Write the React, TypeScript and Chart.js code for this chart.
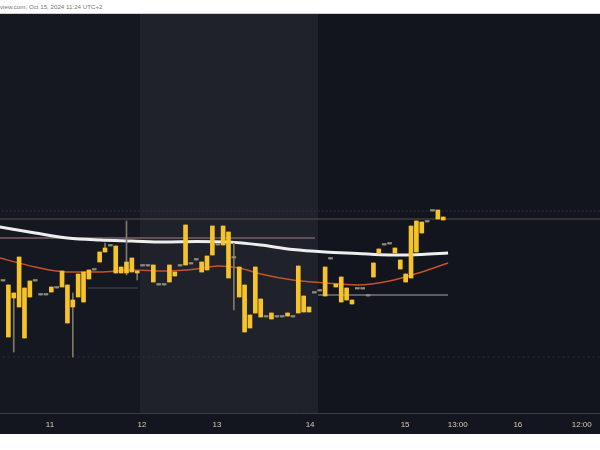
import React, { useEffect, useRef } from "react";
import { Chart, registerables } from "chart.js";
Chart.register(...registerables);

// Candles (one per bar, index = position in arrays)
const opens = [
  2612.8, 2611.2, 2608.0, 2622.4, 2610.0, 2612.8, 2612.8, 2607.2, 2607.2, 2610.4,
  2610.0, 2616.8, 2611.2, 2605.2, 2615.6, 2616.4, 2617.2, 2617.2, 2624.4, 2626.0,
  2626.8, 2626.8, 2618.4, 2620.4, 2622.0, 2616.8, 2618.8, 2618.8, 2619.2, 2611.2,
  2611.2, 2619.2, 2616.4, 2618.8, 2635.2, 2619.6, 2621.2, 2620.4, 2622.8, 2634.8,
  2627.2, 2634.8, 2632.4, 2622.0, 2618.4, 2611.2, 2599.2, 2618.4, 2605.6, 2598.4,
  2600.0, 2598.4, 2598.4, 2600.0, 2598.4, 2618.8, 2606.8, 2602.4, 2608.0, 2608.8,
  2618.4, 2621.6, 2611.6, 2614.4, 2610.0, 2605.2, 2609.6, 2609.6, 2606.8, 2620.0,
  2625.6, 2627.2, 2627.6, 2626.0, 2621.2, 2615.6, 2634.8, 2636.8, 2636.4, 2636.4,
  2640.8, 2641.2, 2638.4,
];
const closes = [
  2612.8, 2590.4, 2606.0, 2602.4, 2590.0, 2606.4, 2612.8, 2607.2, 2607.2, 2608.4,
  2610.0, 2610.4, 2596.0, 2602.4, 2606.4, 2604.4, 2613.6, 2617.2, 2620.4, 2624.4,
  2626.8, 2616.0, 2616.0, 2616.0, 2616.4, 2616.0, 2618.8, 2618.8, 2612.4, 2611.2,
  2611.2, 2612.4, 2614.8, 2618.8, 2619.2, 2619.6, 2621.2, 2616.4, 2617.2, 2623.2,
  2627.2, 2627.2, 2614.0, 2622.0, 2606.4, 2592.4, 2594.0, 2600.0, 2598.4, 2598.4,
  2597.6, 2598.4, 2598.4, 2598.8, 2598.4, 2600.0, 2600.4, 2600.4, 2608.0, 2608.8,
  2606.8, 2621.6, 2610.4, 2604.4, 2605.2, 2603.6, 2609.6, 2609.6, 2606.8, 2614.4,
  2624.0, 2627.2, 2627.6, 2624.0, 2617.6, 2612.4, 2614.0, 2624.4, 2632.0, 2636.4,
  2640.8, 2637.6, 2637.2,
];
const highs = [
  2612.8, 2611.2, 2608.0, 2622.4, 2610.0, 2612.8, 2612.8, 2607.2, 2607.2, 2610.4,
  2610.0, 2616.8, 2611.2, 2608.0, 2615.6, 2616.4, 2617.2, 2617.2, 2624.4, 2628.0,
  2626.8, 2626.8, 2618.4, 2636.8, 2622.0, 2616.8, 2618.8, 2618.8, 2619.2, 2611.2,
  2611.2, 2619.2, 2616.4, 2618.8, 2635.2, 2619.6, 2621.2, 2620.4, 2622.8, 2634.8,
  2627.2, 2634.8, 2632.4, 2628.0, 2618.4, 2611.2, 2599.2, 2618.4, 2605.6, 2598.4,
  2600.0, 2598.4, 2598.4, 2600.0, 2598.4, 2618.8, 2606.8, 2602.4, 2608.0, 2608.8,
  2618.4, 2621.6, 2611.6, 2614.4, 2610.0, 2605.2, 2609.6, 2609.6, 2606.8, 2620.0,
  2625.6, 2627.2, 2627.6, 2626.0, 2621.2, 2615.6, 2634.8, 2636.8, 2636.4, 2636.4,
  2640.8, 2641.2, 2638.4,
];
const lows = [
  2612.8, 2590.4, 2584.4, 2602.4, 2590.0, 2606.4, 2612.8, 2607.2, 2607.2, 2608.4,
  2610.0, 2610.4, 2596.0, 2582.4, 2606.4, 2604.4, 2613.6, 2617.2, 2620.4, 2624.4,
  2626.8, 2616.0, 2616.0, 2615.2, 2616.4, 2613.2, 2618.8, 2618.8, 2612.4, 2611.2,
  2611.2, 2612.4, 2614.8, 2618.8, 2619.2, 2619.6, 2621.2, 2616.4, 2617.2, 2623.2,
  2627.2, 2627.2, 2614.0, 2601.2, 2606.4, 2592.4, 2594.0, 2600.0, 2598.4, 2598.4,
  2597.6, 2598.4, 2598.4, 2598.8, 2598.4, 2600.0, 2600.4, 2600.4, 2608.0, 2608.8,
  2606.8, 2621.6, 2610.4, 2604.4, 2605.2, 2603.6, 2609.6, 2609.6, 2606.8, 2614.4,
  2624.0, 2627.2, 2627.6, 2624.0, 2617.6, 2612.4, 2614.0, 2624.4, 2632.0, 2636.4,
  2640.8, 2637.6, 2637.2,
];

// Moving averages (sampled at candle indexes)
const slowMaX = [-0.6, 6, 12, 18, 24, 30, 36, 42, 48, 54, 60, 66, 72, 78, 82.9];
const slowMaY = [2634.4, 2632.0, 2630.0, 2629.2, 2628.8, 2628.4, 2628.6, 2628.4, 2627.2, 2625.4, 2624.4, 2623.8, 2623.2, 2623.4, 2624.0];
const fastMaX = [-0.6, 6, 12, 18, 24, 30, 36, 40, 44, 48, 54, 60, 66, 72, 78, 82.9];
const fastMaY = [2622.0, 2618.4, 2616.4, 2616.4, 2617.2, 2616.8, 2617.6, 2618.8, 2618.0, 2615.6, 2613.2, 2612.0, 2611.2, 2612.8, 2616.4, 2620.0];

// Horizontal levels
const levelPrices = [2640.8, 2637.6, 2630.0, 2610.0, 2607.2, 2582.4];
const levelFrom = [-1, -1, -1, 15.8, 58.7, -1];
const levelTo = [112, 112, 58.1, 25.1, 82.9, 112];

// Session shading boundaries (candle index units)
const sessionStart = 25.5;
const sessionEnd = 58.7;

// Time axis
const tickValues = [8.75, 25.9, 39.85, 57.2, 74.9, 84.7, 95.9, 107.8];
const tickLabels = ["11", "12", "13", "14", "15", "13:00", "16", "12:00"];

const YELLOW = "#f6c32a";
const DOJI = "#8e8b7a";
const WICK = "#7f7a64";
const levelColors = ["#30333b", "#58523f", "#7a6168", "#4c4f58", "#5b5e67", "#2e3139"];
const levelDash = [[2, 2], [], [], [], [], [2, 3]];
const levelWidth = [1, 1, 1.5, 1, 2, 1];

const bgPlugin = {
  id: "bg",
  beforeDraw(chart: any) {
    const { ctx, chartArea, scales } = chart;
    ctx.save();
    ctx.fillStyle = "#13161e";
    ctx.fillRect(0, 0, chart.width, chart.height);
    const xs = scales.x;
    const a = xs.getPixelForValue(sessionStart);
    const b = xs.getPixelForValue(sessionEnd);
    ctx.fillStyle = "#151821";
    ctx.fillRect(chartArea.left, chartArea.top, a - chartArea.left, chartArea.bottom - chartArea.top);
    ctx.fillStyle = "#1f222b";
    ctx.fillRect(a, chartArea.top, b - a, chartArea.bottom - chartArea.top);
    ctx.fillStyle = "#12151d";
    ctx.fillRect(b, chartArea.top, chartArea.right - b, chartArea.bottom - chartArea.top);
    ctx.restore();
  },
};

export default function App() {
  const ref = useRef<HTMLCanvasElement>(null);
  useEffect(() => {
    const bodies = opens.map((o, i) => ({ x: i, y: [Math.min(o, closes[i]), Math.max(o, closes[i])] }));
    const wicks = highs.map((h, i) => ({ x: i, y: [lows[i], h] }));
    const levelSets = levelPrices.map((p, k) => ({
      type: "line" as const,
      data: [{ x: levelFrom[k], y: p }, { x: levelTo[k], y: p }],
      borderColor: levelColors[k],
      borderWidth: levelWidth[k],
      borderDash: levelDash[k],
      pointRadius: 0,
      order: 5,
    }));
    const chart = new Chart(ref.current!, {
      type: "bar",
      data: {
        datasets: [
          ...levelSets,
          {
            type: "line",
            data: slowMaX.map((x, i) => ({ x, y: slowMaY[i] })),
            borderColor: "#eeeeee",
            borderWidth: 3,
            pointRadius: 0,
            cubicInterpolationMode: "monotone",
            order: 4,
          },
          {
            type: "line",
            data: fastMaX.map((x, i) => ({ x, y: fastMaY[i] })),
            borderColor: "#c4532c",
            borderWidth: 1.5,
            pointRadius: 0,
            cubicInterpolationMode: "monotone",
            order: 3,
          },
          {
            type: "bar",
            data: wicks as any,
            backgroundColor: WICK,
            barThickness: 1,
            grouped: false,
            order: 2,
          },
          {
            type: "bar",
            data: bodies as any,
            backgroundColor: (c: any) => (opens[c.dataIndex] === closes[c.dataIndex] ? DOJI : YELLOW),
            barThickness: 4,
            minBarLength: 1.5,
            grouped: false,
            order: 1,
          },
        ] as any,
      },
      options: {
        responsive: false,
        devicePixelRatio: 1,
        animation: false,
        layout: { padding: 0 },
        plugins: { legend: { display: false }, tooltip: { enabled: false } },
        scales: {
          x: {
            type: "linear",
            min: -0.56,
            max: 111.2,
            offset: false,
            grid: { display: false, drawTicks: false },
            border: { display: true, color: "#3b3e46", width: 1 },
            afterFit: (s: any) => {
              s.height = 21;
            },
            afterBuildTicks: (s: any) => {
              s.ticks = tickValues.map((v) => ({ value: v }));
            },
            ticks: {
              autoSkip: false,
              maxRotation: 0,
              padding: 7,
              color: "#d2ccb2",
              font: { size: 8, family: "Liberation Sans" },
              callback: (_v: any, i: number) => tickLabels[i],
            },
          },
          y: { display: false, min: 2560, max: 2719.6 },
        },
      } as any,
      plugins: [bgPlugin],
    });
    return () => chart.destroy();
  }, []);
  return (
    <div style={{ position: "fixed", left: 0, top: 0, width: 600, height: 450, background: "#fff", overflow: "hidden" }}>
      <div
        style={{
          position: "absolute",
          left: 0,
          top: 0,
          width: 600,
          height: 13,
          fontFamily: "Liberation Sans",
          fontSize: "6.2px",
          lineHeight: "13px",
          color: "#777",
          whiteSpace: "nowrap",
          borderBottom: "1px solid #d0d0d0",
        }}
      >
        view.com, Oct 15, 2024 11:24 UTC+2
      </div>
      <div style={{ position: "absolute", left: 0, top: 14, width: 600, height: 420 }}>
        <canvas ref={ref} width={600} height={420} style={{ display: "block", width: 600, height: 420 }} />
      </div>
    </div>
  );
}
